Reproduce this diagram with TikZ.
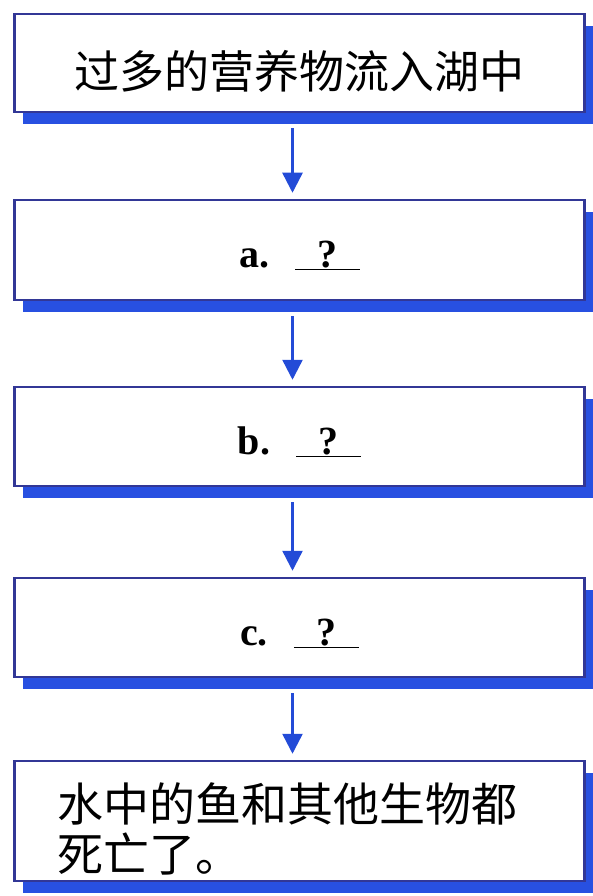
\documentclass[tikz,border=0pt]{standalone}
\usepackage{fontspec}
\setmainfont{Liberation Serif}
\newfontfamily\cjk{Noto Sans CJK SC}
\usetikzlibrary{arrows.meta,shadows}
\definecolor{framenavy}{RGB}{50,55,150}
\definecolor{shadeblue}{RGB}{40,80,225}
\definecolor{arrowblue}{RGB}{35,75,215}
\newcommand{\blankq}{\underline{\makebox[65pt]{?}}}
\tikzset{
  stage/.style={draw=framenavy, line width=2.5pt, fill=white, minimum width=570pt, inner sep=0pt,
    drop shadow={shadow xshift=8pt, shadow yshift=-12pt, fill=shadeblue, opacity=1}},
  flow/.style={-{Triangle[width=20pt,length=20pt]}, line width=2.5pt, arrowblue,
    shorten <=15pt, shorten >=6pt},
  cn/.style={font=\cjk\fontsize{45}{50}\selectfont, execute at begin node=\rule{0pt}{54pt}},
  qlabel/.style={font=\bfseries\fontsize{40}{44}\selectfont, execute at begin node=\rule{0pt}{38pt}},
}
\begin{document}
\begin{tikzpicture}[x=1pt, y=-1pt]
  \useasboundingbox (0,0) rectangle (592,896);

  % Stages of the chain
  \node[stage, minimum height=98pt, cn] (inflow) at (299.5,63) {过多的营养物流入湖中};
  \node[stage, minimum height=100pt, qlabel] (stepa) at (299.5,250) {a.\hspace{26pt}\blankq};
  \node[stage, minimum height=99pt, qlabel] (stepb) at (299.5,436.5) {b.\hspace{26pt}\blankq};
  \node[stage, minimum height=99pt, qlabel] (stepc) at (299.5,627.5) {c.\hspace{26pt}\blankq};
  \node[stage, minimum height=120pt, cn, font=\cjk\fontsize{46}{50}\selectfont,
    align=left, text width=484pt] (death) at (299.5,821)
    {水中的鱼和其他生物都\\死亡了。};

  % Arrows between stages
  \foreach \u/\v in {inflow/stepa, stepa/stepb, stepb/stepc, stepc/death}
    \draw[flow] ([xshift=-7pt]\u.south) -- ([xshift=-7pt]\v.north);
\end{tikzpicture}
\end{document}
